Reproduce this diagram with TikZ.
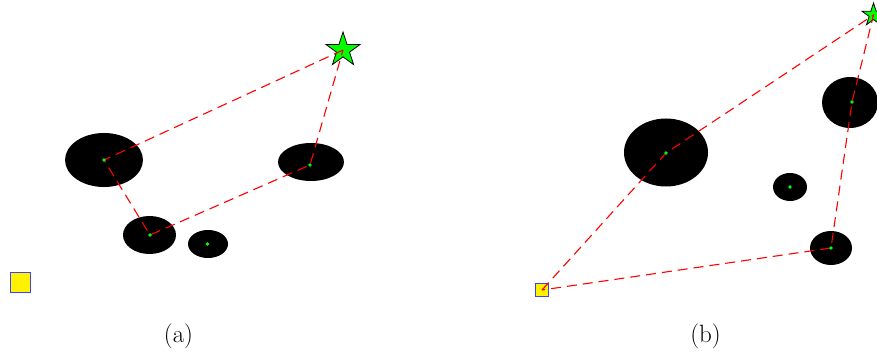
\documentclass[tikz,border=0pt]{standalone}
\usetikzlibrary{shapes.geometric}
\pgfdeclarelayer{front}
\pgfsetlayers{main,front}
\begin{document}
\begin{tikzpicture}[x=1pt,y=-1pt,
  blob/.style={ellipse,fill=black,inner sep=0pt},
  dot/.style={circle,fill=green,inner sep=0pt,minimum size=3.6pt},
  route/.style={red,line width=1.1pt,dash pattern=on 10pt off 6pt},
  goal/.style={star,star points=5,star point ratio=2.618,fill=green,draw=black,line width=0.8pt,inner sep=0pt},
  robot/.style={rectangle,fill=yellow,draw=blue!75!white,line width=1.5pt,inner sep=0pt},
  sublabel/.style={font=\fontsize{25}{30}\selectfont,inner sep=0pt,anchor=base}]
\useasboundingbox (0,0) rectangle (877,352);
% ---------- panel (a)
\node[blob,minimum width=78pt,minimum height=54pt] (a1) at (104,160) {};
\node[blob,minimum width=66pt,minimum height=38pt] (a2) at (311,162) {};
\node[blob,minimum width=53pt,minimum height=38pt] (a3) at (149.5,235) {};
\node[blob,minimum width=40pt,minimum height=28pt] (a4) at (208,244) {};
\node[goal,minimum size=36pt] (ga) at (343,50) {};
\node[robot,minimum size=20pt] (ra) at (20.5,282.5) {};
\begin{pgfonlayer}{front}
\node[dot] (pa1) at (104,160) {};
\node[dot] (pa2) at (310,165) {};
\node[dot] (pa3) at (150,235) {};
\node[dot] (pa4) at (207.5,244) {};
\end{pgfonlayer}
\draw[route] (ga.center) -- (pa1.center) -- (pa3.center) -- (pa2.center) -- (ga.center);
% ---------- panel (b)
\node[blob,minimum width=84pt,minimum height=68pt] (b1) at (666,152.5) {};
\node[blob,minimum width=34pt,minimum height=28pt] (b2) at (790,187) {};
\node[blob,minimum width=42pt,minimum height=34pt] (b3) at (831,248) {};
\node[blob,minimum width=56pt,minimum height=51pt] (b4) at (850,102.5) {};
\node[goal,minimum size=24pt] (gb) at (873.5,15) {};
\node[robot,minimum size=13pt] (rb) at (542,290) {};
\begin{pgfonlayer}{front}
\node[dot] (pb1) at (666,153) {};
\node[dot] (pb2) at (790,187) {};
\node[dot] (pb3) at (831,248) {};
\node[dot] (pb4) at (852,102) {};
\end{pgfonlayer}
\draw[route] (rb.center) -- (pb1.center) -- (gb.center) -- (pb4.center) -- (pb3.center) -- (rb.center);
% ---------- captions
\node[sublabel] (capa) at (178.5,342) {(a)};
\node[sublabel] (capb) at (705.5,342) {(b)};
\end{tikzpicture}
\end{document}
